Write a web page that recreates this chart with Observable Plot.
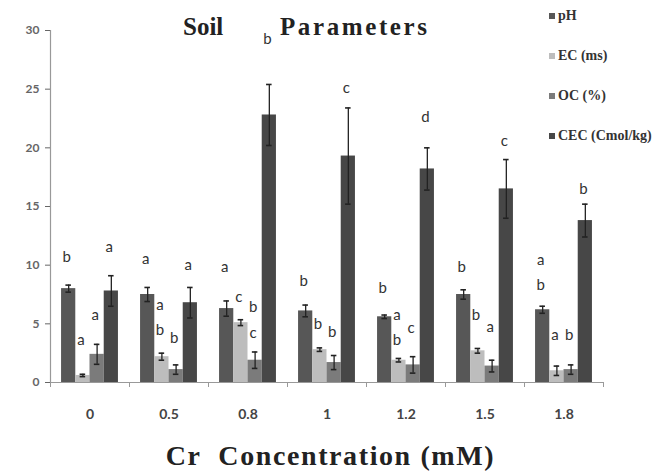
<!DOCTYPE html>
<html><head><meta charset="utf-8">
<script src="https://cdn.jsdelivr.net/npm/d3@7"></script>
<script src="https://cdn.jsdelivr.net/npm/@observablehq/plot@0.6"></script>
<style>
body{margin:0;background:#fff}
#wrap{position:relative;width:661px;height:474px;overflow:hidden}
#wrap svg{position:absolute;left:0;top:0}
.title{position:absolute;top:12px;font:bold 25px "Liberation Serif",serif;color:#222;white-space:nowrap;line-height:30px}
.xtitle{position:absolute;left:0;width:661px;text-align:center;top:440px;font:bold 28px "Liberation Serif",serif;letter-spacing:1.6px;color:#222;white-space:pre;line-height:32px}
.legend{position:absolute;left:549px;top:0;font:bold 14px "Liberation Serif",serif;color:#333}
.legend div{position:absolute;left:0;white-space:nowrap;display:flex;align-items:center}
.legend span.sw{display:inline-block;width:6px;height:6px;margin-right:3px}
</style></head><body>
<div id="wrap"></div>
<script>
// ---- data ----
const groups = ["0", "0.5", "0.8", "1", "1.2", "1.5", "1.8"];
const series = ["pH", "EC (ms)", "OC (%)", "CEC (Cmol/kg)"];
const ph     = [8.0, 7.5, 6.3, 6.1, 5.6, 7.5, 6.2];
const phErr  = [0.3, 0.6, 0.65, 0.5, 0.15, 0.4, 0.3];
const ec     = [0.6, 2.2, 5.1, 2.8, 1.9, 2.7, 1.0];
const ecErr  = [0.1, 0.3, 0.25, 0.15, 0.15, 0.2, 0.4];
const oc     = [2.4, 1.1, 1.9, 1.7, 1.5, 1.4, 1.1];
const ocErr  = [0.85, 0.4, 0.7, 0.6, 0.7, 0.5, 0.4];
const cec    = [7.8, 6.8, 22.8, 19.3, 18.2, 16.5, 13.8];
const cecErr = [1.3, 1.3, 2.6, 4.1, 1.8, 2.5, 1.4];
const yTicks = [0, 5, 10, 15, 20, 25, 30];
// significance letters: [group index, series index, letter, height in data units]
const letters = [
  [0,0,"b",10.7],[0,1,"a",3.6],[0,2,"a",5.7],[0,3,"a",11.5],
  [1,0,"a",10.5],[1,1,"a",6.6],[1,1,"b",4.5],[1,2,"b",3.8],[1,3,"a",10.0],
  [2,0,"a",9.8],[2,1,"c",7.25],[2,2,"b",6.4],[2,2,"c",4.2],[2,3,"b",29.3],
  [3,0,"b",8.6],[3,1,"b",5.0],[3,2,"b",4.3],[3,3,"c",25.1],
  [4,0,"b",8.0],[4,1,"a",5.7],[4,1,"b",3.6],[4,2,"c",4.6],[4,3,"d",22.6],
  [5,0,"b",9.8],[5,1,"b",5.7],[5,2,"a",4.7],[5,3,"c",20.6],
  [6,0,"a",10.4],[6,0,"b",8.3],[6,1,"a",4.0],[6,2,"b",4.0],[6,3,"b",16.5]
];
const colors = ["#575757", "#bdbdbd", "#7b7b7b", "#474747"];

// ---- build table ----
const values = [ph, ec, oc, cec];
const errors = [phErr, ecErr, ocErr, cecErr];
const rows = [];
groups.forEach((g, i) => series.forEach((s, j) => rows.push({g: i, j, s, v: values[j][i], e: errors[j][i]})));
const bw = 0.18;
const left = d => d.g + 0.5 - 2 * bw + d.j * bw;
const cx = d => left(d) + bw / 2;
const cap = 0.035;
const caps = rows.flatMap(d => [{...d, y: d.v + d.e}, {...d, y: Math.max(0, d.v - d.e)}]);
const letterRows = letters.map(([g, j, t, y]) => ({g, j, t, y}));

const chart = Plot.plot({
  width: 661, height: 474,
  marginLeft: 50, marginRight: 58, marginTop: 30, marginBottom: 92,
  style: {fontFamily: "Lato, sans-serif", background: "transparent"},
  x: {domain: [0, groups.length]},
  y: {domain: [0, 30]},
  color: {domain: series, range: colors},
  marks: [
    Plot.rect(rows, {x1: left, x2: d => left(d) + bw, y1: d => 0, y2: "v", fill: "s"}),
    Plot.ruleX(rows, {x: cx, y1: d => Math.max(0, d.v - d.e), y2: d => d.v + d.e, stroke: "#222", strokeWidth: 1.3}),
    Plot.ruleY(caps, {x1: d => cx(d) - cap, x2: d => cx(d) + cap, y: "y", stroke: "#222", strokeWidth: 1.6}),
    Plot.text(letterRows, {x: cx, y: "y", text: "t", fontSize: 15, fill: "#333", dx: -2}),
    Plot.ruleX([0], {stroke: "#999", strokeWidth: 1.2}),
    Plot.ruleY([0], {stroke: "#999", strokeWidth: 1.2}),
    Plot.axisY({ticks: yTicks, tickSize: 5, tickPadding: 6, fontSize: 12, fontWeight: "bold", color: "#666", label: null}),
    Plot.axisX({ticks: d3.range(0, groups.length + 1), tickSize: 5, tickFormat: () => "", color: "#999", label: null}),
    Plot.axisX({ticks: groups.map((g, i) => i + 0.5), tickSize: 0, tickPadding: 27, tickFormat: t => groups[Math.round(t - 0.5)], fontSize: 14, fontWeight: "bold", color: "#444", label: null})
  ]
});

const wrap = document.getElementById("wrap");
wrap.appendChild(chart);
const t1 = document.createElement("div");
t1.className = "title";
t1.style.left = "183px";
t1.textContent = "Soil";
wrap.appendChild(t1);
const t2 = document.createElement("div");
t2.className = "title";
t2.style.left = "280px";
t2.style.letterSpacing = "2.6px";
t2.textContent = "Parameters";
wrap.appendChild(t2);
const xt = document.createElement("div");
xt.className = "xtitle";
xt.textContent = "Cr  Concentration (mM)";
wrap.appendChild(xt);
const legend = document.createElement("div");
legend.className = "legend";
const legendTops = [8, 48, 88, 128];
series.forEach((s, j) => {
  const item = document.createElement("div");
  item.style.top = legendTops[j] + "px";
  const sw = document.createElement("span");
  sw.className = "sw";
  sw.style.background = colors[j];
  item.appendChild(sw);
  item.appendChild(document.createTextNode(s));
  legend.appendChild(item);
});
wrap.appendChild(legend);
</script>
</body></html>
